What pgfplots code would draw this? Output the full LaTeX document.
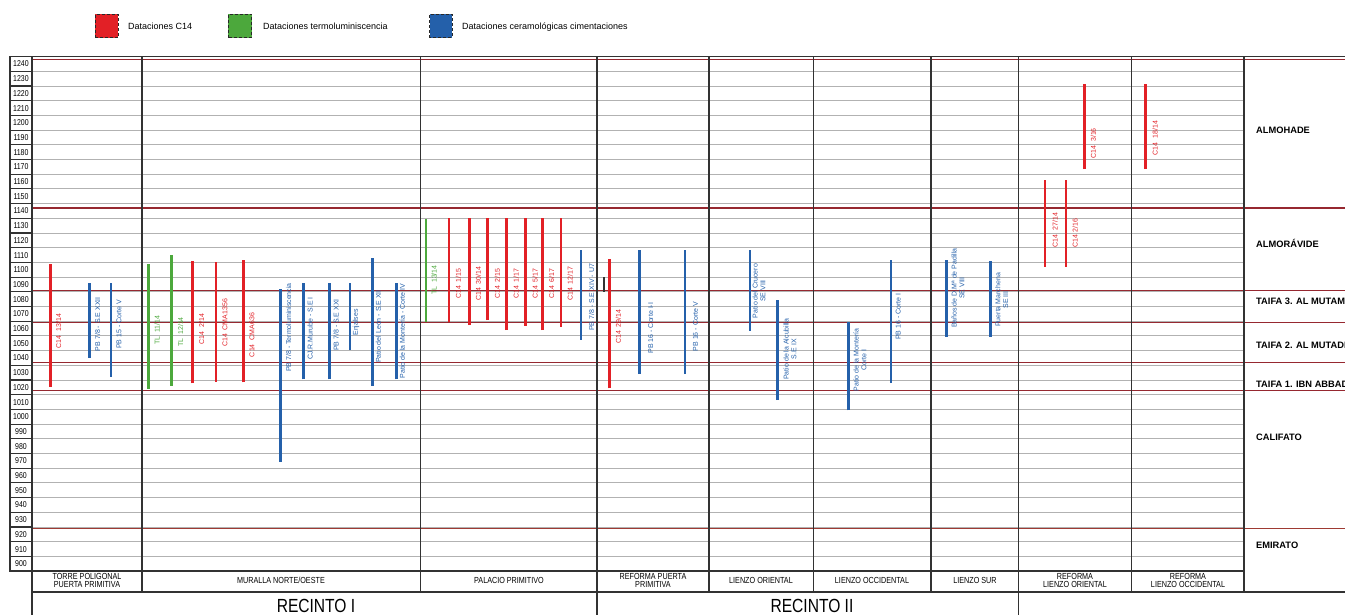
\documentclass[border=0pt]{standalone}
\usepackage{fontspec}
\setmainfont{Liberation Sans}
\newfontfamily\narrow[FakeStretch=0.82]{Liberation Sans}
\newfontfamily\perfont{Liberation Sans}
\usepackage{pgfplots}
\pgfplotsset{compat=1.18}

\definecolor{cred}{RGB}{226,32,38}
\definecolor{cgreen}{RGB}{76,168,60}
\definecolor{cblue}{RGB}{36,96,170}
\definecolor{per}{RGB}{150,40,48}
\definecolor{gridc}{RGB}{178,178,178}
\definecolor{frame}{RGB}{50,50,50}

\begin{document}
\begin{tikzpicture}
\begin{axis}[
  scale only axis, width=1212pt, height=514.5pt,
  xmin=32, xmax=1244, ymin=900, ymax=1250,
  clip=false,
  axis line style={draw=none},
  major tick length=0pt, minor tick length=0pt,
  xtick=\empty,
  ytick={905,915,925,935,945,955,965,975,985,995,1005,1015,1025,1035,1045,1055,1065,1075,1085,1095,1105,1115,1125,1135,1145,1155,1165,1175,1185,1195,1205,1215,1225,1235,1245},
  yticklabels={900,910,920,930,940,950,960,970,980,990,1000,1010,1020,1030,1040,1050,1060,1070,1080,1090,1100,1110,1120,1130,1140,1150,1160,1170,1180,1190,1200,1210,1220,1230,1240},
  yticklabel style={font=\narrow\fontsize{8.5}{9}\selectfont, anchor=center, xshift=-11pt, inner sep=0pt},
  minor ytick={910,920,...,1240},
  yminorgrids, ymajorgrids=false,
  minor grid style={gridc, line width=1pt},
  unbounded coords=jump,
]
% label column
\pgfplotsinvokeforeach{910,920,...,1240}{\draw[frame, line width=1.1pt] (axis cs:10,#1) -- (axis cs:32,#1);}
% period boundaries
\pgfplotsinvokeforeach{1248,1147,1091,1069,1042,1023}{\draw[per, line width=1.2pt] (axis cs:32,#1) -- (axis cs:1345,#1);}
\draw[per!80!brown, line width=1.2pt] (axis cs:32,929) -- (axis cs:1345,929);
% frame
\draw[frame, line width=1.3pt] (axis cs:10,900) rectangle (axis cs:32,1250);
\draw[frame, line width=1.3pt] (axis cs:10,1250) -- (axis cs:1345,1250);
\draw[frame, line width=1.3pt] (axis cs:10,900) -- (axis cs:1244,900);
\draw[frame, line width=1.3pt] (axis cs:32,885.8) -- (axis cs:1345,885.8);
\draw[frame, line width=1.3pt] (axis cs:32,1250) -- (axis cs:32,870);
\pgfplotsinvokeforeach{142,420.5,709,813.5,931,1131.5,1244}{\draw[frame, line width=1.3pt] (axis cs:#1,1250) -- (axis cs:#1,885.8);}
\pgfplotsinvokeforeach{597,1018.5}{\draw[frame, line width=1.3pt] (axis cs:#1,1250) -- (axis cs:#1,870);}

% C14
\addplot[cred, line width=2.6pt, mark=none] coordinates {
(50.7,1025.5) (50.7,1108.7) (50.7,nan)
(192.7,1027.8) (192.7,1111) (192.7,nan)
(216,1029) (216,1110.6) (216,nan)
(243.3,1028.5) (243.3,1112) (243.3,nan)
(449,1069.3) (449,1140.4) (449,nan)
(469.7,1067.4) (469.7,1140.4) (469.7,nan)
(487.7,1070.8) (487.7,1140.4) (487.7,nan)
(506.7,1064) (506.7,1140.4) (506.7,nan)
(525.7,1066.8) (525.7,1140.4) (525.7,nan)
(542.7,1064) (542.7,1140.4) (542.7,nan)
(561,1066.3) (561,1140.4) (561,nan)
(609.3,1024.4) (609.3,1112.1) (609.3,nan)
(1045,1107.1) (1045,1166.1) (1045,nan)
(1066,1107.1) (1066,1166.1) (1066,nan)
(1084.3,1173.4) (1084.3,1231.2) (1084.3,nan)
(1145.7,1173.4) (1145.7,1231.2)
};
% TL
\addplot[cgreen, line width=2.6pt, mark=none] coordinates {
(148.3,1024.1) (148.3,1108.7) (148.3,nan)
(171.7,1026) (171.7,1114.8) (171.7,nan)
(426,1069.3) (426,1139.6)
};
% ceramic
\addplot[cblue, line width=2.6pt, mark=none] coordinates {
(89.3,1045) (89.3,1095.8) (89.3,nan)
(111,1032.3) (111,1095.8) (111,nan)
(280.7,974.5) (280.7,1091.8) (280.7,nan)
(303.3,1030.5) (303.3,1095.8) (303.3,nan)
(329.3,1030.5) (329.3,1095.8) (329.3,nan)
(350,1050.4) (350,1095.8) (350,nan)
(372.7,1026) (372.7,1112.9) (372.7,nan)
(396.7,1030.5) (396.7,1095.8) (396.7,nan)
(581,1057.3) (581,1118.2) (581,nan)
(639.3,1034) (639.3,1118.2) (639.3,nan)
(685,1034) (685,1118.2) (685,nan)
(750,1063.6) (750,1118.2) (750,nan)
(777.7,1016.4) (777.7,1084.5) (777.7,nan)
(848.7,1009.4) (848.7,1069.3) (848.7,nan)
(891,1027.9) (891,1111.8) (891,nan)
(946.7,1059.6) (946.7,1111.8) (946.7,nan)
(990.5,1059.6) (990.5,1110.7)
};
\addplot[frame, line width=1.5pt, mark=none] coordinates {(604,1090) (604,1100.3)};

% bar labels
\tikzset{bl/.style={rotate=90, font=\fontsize{7}{7.8}\selectfont, inner sep=0pt, align=center}}
\node[bl, text=cred] at (axis cs:58.5,1063.4) {C14~~13/14};
\node[bl, text=cblue] at (axis cs:97.5,1068) {PB 7/8 - S.E XXII};
\node[bl, text=cblue] at (axis cs:119,1068) {PB 15 - Corte V};
\node[bl, text=cgreen] at (axis cs:157,1064) {TL~~11/14};
\node[bl, text=cgreen] at (axis cs:180.5,1062.7) {TL~~12/14};
\node[bl, text=cred] at (axis cs:201.5,1064.7) {C14~~2/14};
\node[bl, text=cred] at (axis cs:225,1068.8) {C14~~CMA1356};
\node[bl, text=cred] at (axis cs:252,1060.6) {C14~~CMA636};
\node[bl, text=cblue] at (axis cs:288.5,1065.7) {PB 7/8 - Termoluminiscencia};
\node[bl, text=cblue] at (axis cs:310,1065) {CJ.R.Murube - S.E I};
\node[bl, text=cblue] at (axis cs:336,1067.4) {PB 7/8 - S.E XXI};
\node[bl, text=cblue] at (axis cs:356,1069.2) {Enjalses};
\node[bl, text=cblue] at (axis cs:378.3,1066.4) {Patio del León - S.E XII};
\node[bl, text=cblue] at (axis cs:402.3,1063.4) {Patio de la Montería - Corte IV};
\node[bl, text=cgreen] at (axis cs:434,1098) {TL~~13/14};
\node[bl, text=cred] at (axis cs:458.3,1095.5) {C14~~1/15};
\node[bl, text=cred] at (axis cs:478.3,1095.5) {C14~~30/14};
\node[bl, text=cred] at (axis cs:497.3,1095.5) {C14~~2/15};
\node[bl, text=cred] at (axis cs:516,1095.5) {C14~~1/17};
\node[bl, text=cred] at (axis cs:535,1095.5) {C14~~5/17};
\node[bl, text=cred] at (axis cs:551.7,1095.5) {C14~~6/17};
\node[bl, text=cred] at (axis cs:570,1095.5) {C14~~12/17};
\node[bl, text=cblue] at (axis cs:591.7,1086.2) {PB 7/8 - S.E XIV - U7};
\node[bl, text=cred] at (axis cs:618.3,1066.3) {C14~~29/14};
\node[bl, text=cblue] at (axis cs:650.7,1065.4) {PB 16 - Corte I-I};
\node[bl, text=cblue] at (axis cs:695.5,1066.3) {PB 16 - Corte V};
\node[bl, text=cblue] at (axis cs:759,1090.6) {Patio del Crucero\\SE VIII};
\node[bl, text=cblue] at (axis cs:790,1051) {Patio de la Alcubilla\\S.E IX};
\node[bl, text=cblue] at (axis cs:860,1043.6) {Patio de la Montería\\Corte I};
\node[bl, text=cblue] at (axis cs:898.3,1073.2) {PB 16 - Corte I};
\node[bl, text=cblue] at (axis cs:958,1092.6) {Baños de D.Mª de Padilla\\SE VIII};
\node[bl, text=cblue] at (axis cs:1001.7,1084.5) {Puerta Marchena\\SE III};
\node[bl, text=cred] at (axis cs:1055,1132) {C14~~27/14};
\node[bl, text=cred] at (axis cs:1075,1130) {C14~2/16};
\node[bl, text=cred] at (axis cs:1093.3,1191) {C14~~3/16};
\node[bl, text=cred] at (axis cs:1155,1194.6) {C14~~18/14};

% period labels
\tikzset{pl/.style={anchor=west, inner sep=0pt, font=\perfont\bfseries\fontsize{9.3}{10}\selectfont}}
\node[pl] at (axis cs:1256,1200.1) {ALMOHADE};
\node[pl] at (axis cs:1256,1123) {ALMORÁVIDE};
\node[pl] at (axis cs:1256,1083.8) {TAIFA 3. AL MUTAMID};
\node[pl] at (axis cs:1256,1053.6) {TAIFA 2. AL MUTADID};
\node[pl] at (axis cs:1256,1027.2) {TAIFA 1. IBN ABBAD};
\node[pl] at (axis cs:1256,991.1) {CALIFATO};
\node[pl] at (axis cs:1256,917.8) {EMIRATO};

% category labels
\tikzset{cl/.style={align=center, inner sep=0pt, font=\narrow\fontsize{8.8}{8}\selectfont}}
\node[cl] at (axis cs:87,893.6) {TORRE POLIGONAL\\PUERTA PRIMITIVA};
\node[cl] at (axis cs:281,893.6) {MURALLA NORTE/OESTE};
\node[cl] at (axis cs:509,893.6) {PALACIO PRIMITIVO};
\node[cl] at (axis cs:653,893.6) {REFORMA PUERTA\\PRIMITIVA};
\node[cl] at (axis cs:761,893.6) {LIENZO ORIENTAL};
\node[cl] at (axis cs:872,893.6) {LIENZO OCCIDENTAL};
\node[cl] at (axis cs:975,893.6) {LIENZO SUR};
\node[cl] at (axis cs:1075,893.6) {REFORMA\\LIENZO ORIENTAL};
\node[cl] at (axis cs:1188,893.6) {REFORMA\\LIENZO OCCIDENTAL};
\node[inner sep=0pt, font=\narrow\fontsize{19}{19}\selectfont] at (axis cs:316,876.3) {RECINTO I};
\node[inner sep=0pt, font=\narrow\fontsize{19}{19}\selectfont] at (axis cs:812,876.3) {RECINTO II};

% legend
\tikzset{lg/.style={draw=frame!80!black, densely dashed, line width=0.8pt}}
\draw[lg, fill=cred] (axis cs:95,1262.9) rectangle (axis cs:118,1278.8);
\draw[lg, fill=cgreen] (axis cs:228,1262.9) rectangle (axis cs:251.5,1278.8);
\draw[lg, fill=cblue] (axis cs:429.5,1262.9) rectangle (axis cs:452,1278.8);
\tikzset{lt/.style={anchor=west, inner sep=0pt, font=\fontsize{9}{9}\selectfont}}
\node[lt] at (axis cs:128,1270.4) {Dataciones C14};
\node[lt] at (axis cs:263,1270.4) {Dataciones termoluminiscencia};
\node[lt] at (axis cs:462,1270.4) {Dataciones ceramológicas cimentaciones};

\coordinate (bbA) at (axis cs:0,870.17);
\coordinate (bbB) at (axis cs:1345,1288.54);
\end{axis}
\pgfresetboundingbox
\useasboundingbox (bbA) rectangle (bbB);
\end{tikzpicture}
\end{document}
